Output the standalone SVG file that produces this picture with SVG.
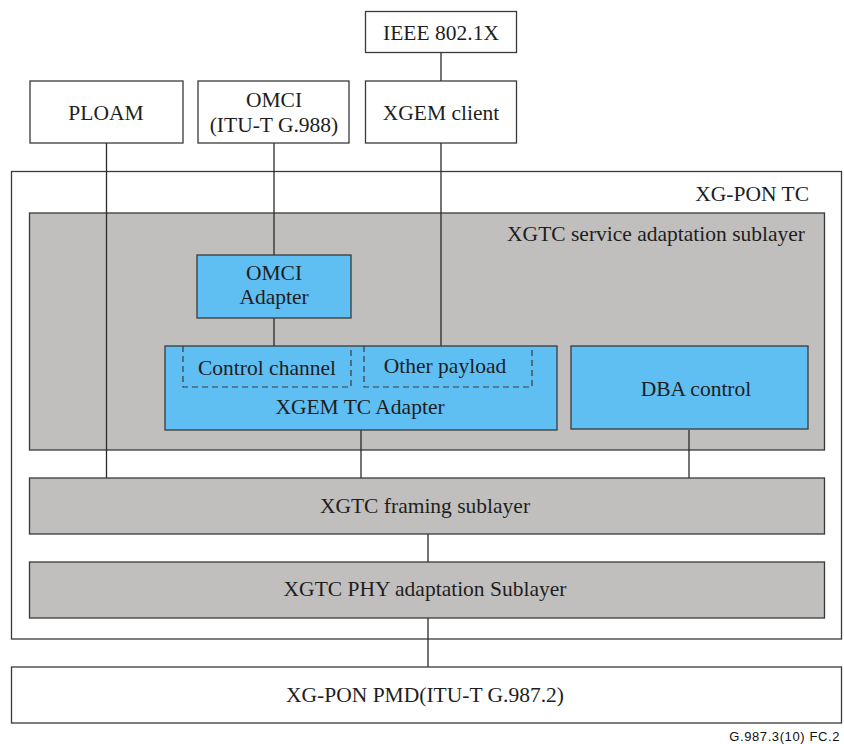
<svg xmlns="http://www.w3.org/2000/svg" width="844" height="744" viewBox="0 0 844 744">
<style>
.box{fill:#ffffff;stroke:#3a3a3a;stroke-width:1.3}
.gray{fill:#c1bfbd;stroke:#3a3a3a;stroke-width:1.3}
.blue{fill:#5fbff3;stroke:#3a3a3a;stroke-width:1.3}
.dash{fill:none;stroke:#3a3a3a;stroke-width:1.2;stroke-dasharray:6,4}
.t{font-family:'Liberation Serif','Times New Roman',serif;font-size:21.5px;fill:#1e1e1e;text-anchor:middle}
.tr{text-anchor:end}
.c{stroke:#2a2a2a;stroke-width:1.3;fill:none}
.note{font-family:'Liberation Sans',Arial,sans-serif;font-size:13px;letter-spacing:0.6px;fill:#111;text-anchor:end}
</style>
<rect width="844" height="744" fill="#ffffff"/>
<g id="xgpon-tc">
<rect class="box" x="11.5" y="171.5" width="830" height="467.5"/>
<text class="t tr" x="809" y="201">XG-PON TC</text>
</g>
<g id="service-sublayer">
<rect class="gray" x="29.5" y="213" width="795" height="237"/>
<text class="t tr" x="805" y="241">XGTC service adaptation sublayer</text>
</g>
<g id="connectors">
<line class="c" x1="441" y1="52" x2="441" y2="81"/>
<line class="c" x1="106.5" y1="143" x2="106.5" y2="478"/>
<line class="c" x1="274" y1="143" x2="274" y2="255"/>
<line class="c" x1="274" y1="318" x2="274" y2="346"/>
<line class="c" x1="441" y1="143" x2="441" y2="346"/>
<line class="c" x1="361" y1="430" x2="361" y2="478"/>
<line class="c" x1="689" y1="430" x2="689" y2="478"/>
<line class="c" x1="428" y1="534" x2="428" y2="562"/>
<line class="c" x1="428" y1="618" x2="428" y2="667"/>
</g>
<g id="ieee">
<rect class="box" x="365.5" y="11.5" width="151" height="41"/>
<text class="t" x="441" y="40">IEEE 802.1X</text>
</g>
<g id="ploam">
<rect class="box" x="30" y="81" width="153" height="62"/>
<text class="t" x="106" y="120">PLOAM</text>
</g>
<g id="omci">
<rect class="box" x="198" y="81" width="151" height="62"/>
<text class="t" x="274" y="107">OMCI</text>
<text class="t" x="274" y="132">(ITU-T G.988)</text>
</g>
<g id="xgem-client">
<rect class="box" x="365.5" y="81" width="151" height="62"/>
<text class="t" x="441" y="120">XGEM client</text>
</g>
<g id="omci-adapter">
<rect class="blue" x="197" y="255" width="154" height="63"/>
<text class="t" x="274" y="280">OMCI</text>
<text class="t" x="274" y="304">Adapter</text>
</g>
<g id="xgem-tc-adapter">
<rect class="blue" x="165" y="346" width="392" height="84"/>
<path class="dash" d="M183,346 V387 H351 V346"/>
<path class="dash" d="M364,346 V387 H532 V346"/>
<text class="t" x="267" y="375">Control channel</text>
<text class="t" x="445" y="373">Other payload</text>
<text class="t" x="360" y="414">XGEM TC Adapter</text>
</g>
<g id="dba-control">
<rect class="blue" x="571" y="346" width="237" height="83"/>
<text class="t" x="696" y="396">DBA control</text>
</g>
<g id="framing">
<rect class="gray" x="29.5" y="478" width="795" height="56"/>
<text class="t" x="425" y="513">XGTC framing sublayer</text>
</g>
<g id="phy">
<rect class="gray" x="29.5" y="562" width="795" height="56"/>
<text class="t" x="425" y="596">XGTC PHY adaptation Sublayer</text>
</g>
<g id="pmd">
<rect class="box" x="11.5" y="667" width="830" height="56"/>
<text class="t" x="425" y="702">XG-PON PMD(ITU-T G.987.2)</text>
</g>
<text class="note" x="840" y="741">G.987.3(10) FC.2</text>
</svg>
